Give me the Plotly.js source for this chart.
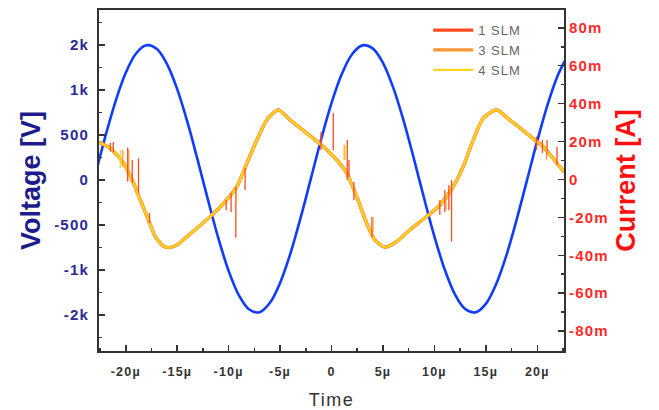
<!DOCTYPE html>
<html>
<head>
<meta charset="utf-8">
<script src="https://cdn.plot.ly/plotly-3.0.1.min.js"></script>
<style>
  html, body { margin: 0; padding: 0; background: #fff; }
  #chart { width: 659px; height: 410px; }
  g.xtick text, g.ytick text, g.y2tick text { letter-spacing: 1.2px; }
  text.legendtext { letter-spacing: 1px; }
  text.xtitle { letter-spacing: 1.5px; }
</style>
</head>
<body>
<div id="chart"></div>
<script>
// ---- Voltage (left axis, evenly spaced tick labels as in the reference) ----
const voltTime = [-23,-22,-21,-20,-19,-18,-17,-16,-15,-14,-13,-12,-11,-10,-9,-8,-7,-6,-5,-4,-3,-2,-1,0,
                  1,2,3,4,5,6,7,8,9,10,11,12,13,14,15,16,17,18,19,20,21,22,23];
const voltage = [41,477,872,1191,1406,1497,1458,1290,1010,642,218,-224,-646,-1009,-1281,-1439,-1469,-1367,-1144,-819,-419,18,456,854,
                 1177,1398,1496,1463,1302,1026,662,240,-203,-626,-993,-1270,-1434,-1471,-1376,-1158,-837,-440,-4,434,835,1163,1389];

// ---- Current base curve (mA), shared by the three SLM series ----
const curTime = [-22.6,-21.5,-20.2,-19.24,-18.59,-17.79,-17.14,-16.33,-15.87,-15.03,-14.06,-13.09,-11.8,-10.5,-9.2,-8.23,-7.26,-6.29,-5.17,-4.03,-2.41,-0.8,
                 0.66,1.48,2.45,3.42,4.22,5.19,6.33,7.62,9.24,10.53,11.83,12.8,13.77,14.74,16.04,17.33,18.95,20.56,22.18,22.6];
const curBase = [19.6,16.5,8.5,-2.0,-10.8,-21.4,-30.2,-35.2,-36.0,-34.6,-30.2,-25.8,-19.6,-12.6,-3.8,8.5,20.8,31.4,36.7,31.4,24.4,17.3,
                 9.4,3.3,-9.1,-23.1,-31.9,-35.7,-32.8,-26.6,-19.6,-13.5,-3.8,6.8,20.8,32.3,36.7,31.4,24.4,17.3,6.8,4.0];

// ---- Spikes (time µs, low mA, high mA) ----
const spike1T  = [-21.5,-21.21,-19.81,-19.37,-18.76,-17.69,-10.24,-9.76,-9.3,-8.4,-1.02,0.17,1.53,1.7,2.18,3.93,10.53,11.02,11.41,11.67,19.92,20.5,20.95,21.92];
const spike1Lo = [14.7,14.5,-1.2,-1.8,-7.3,-23.0,-16.1,-17.2,-30.7,-5.5,15.6,15.6,-0.3,1.3,-10.8,-30.3,-18.7,-17.2,-16.1,-32.8,15.6,14.0,12.9,7.7];
const spike1Hi = [19.4,19.8,16.8,10.3,11.2,-17.7,-10.8,-7.1,-3.8,6.1,25.2,35.1,20.8,10.3,-1.3,-19.8,-10.8,-5.5,-2.9,-0.3,22.6,20.8,20.8,17.2];

const spike3T  = [-20.29,-19.71,-9.27,1.24,4.03,11.12,20.89];
const spike3Lo = [6.6,2.4,-13.5,10.3,-27.7,-16.1,10.3];
const spike3Hi = [15.6,15.6,-5.5,18.2,-19.8,-8.2,18.2];

const spike4T  = [-20.53,1.31];
const spike4Lo = [6.1,10.3];
const spike4Hi = [15.6,18.2];

// ---- Tick labels ----
const xTickVals = [-20,-15,-10,-5,0,5,10,15,20];
const xTickText = ['-20µ','-15µ','-10µ','-5µ','0','5µ','10µ','15µ','20µ'];
const vTickVals = [-1500,-1000,-500,0,500,1000,1500];
const vTickText = ['-2k','-1k','-500','0','500','1k','2k'];
const iTickVals = [-80,-60,-40,-20,0,20,40,60,80];
const iTickText = ['-80m','-60m','-40m','-20m','0','20m','40m','60m','80m'];

const seriesNames = ['1 SLM','3 SLM','4 SLM'];
const seriesColors = ['#ff4a1c','#ff9632','#ffd21e'];
const seriesWidths = [3.2,3.2,2.2];

function spikeTrace(T, lo, hi, color) {
  const xs = [], ys = [];
  for (let i = 0; i < T.length; i++) { xs.push(T[i], T[i], null); ys.push(lo[i], hi[i], null); }
  return {x: xs, y: ys, yaxis: 'y2', mode: 'lines', showlegend: false,
          line: {color: color, width: 1.3}, hoverinfo: 'skip'};
}

const traces = [
  {x: voltTime, y: voltage, mode: 'lines', line: {color: '#0f3cff', width: 2.6, shape: 'spline'}, showlegend: false}
];
const spikeSets = [[spike1T, spike1Lo, spike1Hi], [spike3T, spike3Lo, spike3Hi], [spike4T, spike4Lo, spike4Hi]];
for (let k = 0; k < 3; k++) {
  traces.push({x: curTime, y: curBase, yaxis: 'y2', mode: 'lines', name: seriesNames[k],
               line: {color: seriesColors[k], width: seriesWidths[k], shape: 'spline', smoothing: 0.6}});
}
for (let k = 0; k < 3; k++) {
  traces.push(spikeTrace(spikeSets[k][0], spikeSets[k][1], spikeSets[k][2], seriesColors[k]));
}

const axisCommon = {showgrid: false, zeroline: false, showline: true, linewidth: 2, linecolor: '#333',
                    ticks: 'inside', ticklen: 6, tickwidth: 1.5, tickcolor: '#333'};

const layout = {
  width: 659, height: 410,
  margin: {l: 99, r: 95, t: 10, b: 59},
  paper_bgcolor: '#fff', plot_bgcolor: '#fff',
  font: {family: 'Liberation Sans, Arial, sans-serif'},
  xaxis: Object.assign({}, axisCommon, {
    range: [-22.6, 22.6], mirror: true, tickmode: 'array', tickvals: xTickVals, ticktext: xTickText,
    tickfont: {size: 12.5, color: '#333', weight: 'bold'}, ticklabelstandoff: 8,
    minor: {tickmode: 'linear', tick0: 0, dtick: 2.5, ticks: 'inside', ticklen: 3, tickwidth: 1.5, tickcolor: '#333'},
    title: {text: 'Time', font: {size: 18, color: '#333'}, standoff: 20}
  }),
  yaxis: Object.assign({}, axisCommon, {
    range: [-1900, 1889], tickmode: 'array', tickvals: vTickVals, ticktext: vTickText,
    tickfont: {size: 15, color: '#2b2b96', weight: 'bold'}, ticklabelstandoff: 5,
    minor: {tickmode: 'linear', tick0: 250, dtick: 500, ticks: 'inside', ticklen: 3, tickwidth: 1.5, tickcolor: '#333'},
    title: {text: 'Voltage [V]', font: {size: 27, color: '#1c1c8c', weight: 'bold'}, standoff: 6}
  }),
  yaxis2: Object.assign({}, axisCommon, {
    overlaying: 'y', side: 'right', range: [-90.5, 89.4], tickmode: 'array', tickvals: iTickVals, ticktext: iTickText,
    tickfont: {size: 15, color: '#ff2a2a', weight: 'bold'},
    minor: {tickmode: 'linear', tick0: 10, dtick: 20, ticks: 'inside', ticklen: 3, tickwidth: 1.5, tickcolor: '#333'},
    title: {text: 'Current [A]', font: {size: 27, color: '#ff1010', weight: 'bold'}, standoff: 8}
  }),
  legend: {x: 0.708, y: 0.985, xanchor: 'left', yanchor: 'top', bgcolor: 'rgba(0,0,0,0)', tracegroupgap: 0,
           font: {size: 13, color: '#666'}, itemwidth: 40}
};

Plotly.newPlot('chart', traces, layout, {displayModeBar: false, staticPlot: true});
</script>
</body>
</html>
